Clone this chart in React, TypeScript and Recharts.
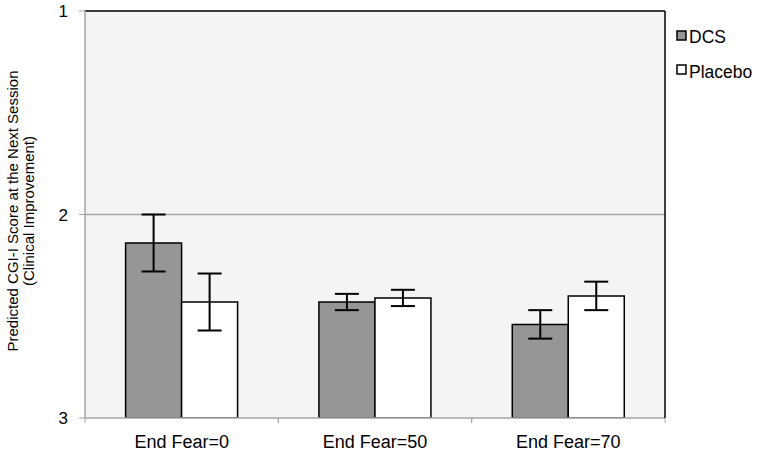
import { BarChart, Bar, XAxis, YAxis, ErrorBar, ReferenceLine, ReferenceArea } from "recharts";

const categories = ["End Fear=0", "End Fear=50", "End Fear=70"];
const dcsScores = [2.14, 2.43, 2.54];
const dcsErrors = [0.14, 0.04, 0.07];
const placeboScores = [2.43, 2.41, 2.4];
const placeboErrors = [0.14, 0.04, 0.07];
const yTicks = [1, 2, 3];
const seriesNames = ["DCS", "Placebo"];
const yTitle = ["Predicted CGI-I Score at the Next Session", "(Clinical Improvement)"];

// bars are drawn from the bottom of the reversed scale (3) up to the score
const BASE = 3;

const data = categories.map((name, i) => ({
  name,
  dcs: dcsScores[i],
  dcsErr: dcsErrors[i],
  placebo: placeboScores[i],
  placeboErr: placeboErrors[i],
}));

const FONT = "'Liberation Sans', Arial, sans-serif";
const AXIS_GRAY = "#a6a6a6";
const DCS_FILL = "#969696";

function CategoryTick(props: any) {
  const { x, y, payload } = props;
  const half = payload.offset ?? 0;
  return (
    <g>
      <line x1={x - half} x2={x - half} y1={y - 8} y2={y - 3} stroke={AXIS_GRAY} />
      <line x1={x + half} x2={x + half} y1={y - 8} y2={y - 3} stroke={AXIS_GRAY} />
      <text x={x} y={y} dy={21.5} textAnchor='middle' fill='#000' fontSize={18}>
        {payload.value}
      </text>
    </g>
  );
}

function YTitle() {
  const cy = 211;
  return (
    <g>
      {yTitle.map((line, i) => {
        const cx = 12 + i * 16.5;
        return (
          <text
            key={line}
            x={cx}
            y={cy}
            transform={`rotate(-90, ${cx}, ${cy})`}
            textAnchor='middle'
            dominantBaseline='central'
            fontSize={15}
            fill='#000'
          >
            {line}
          </text>
        );
      })}
    </g>
  );
}

function LegendBox() {
  const swatches = [DCS_FILL, "#fff"];
  return (
    <svg
      width={90}
      height={80}
      style={{ position: "absolute", left: 672, top: 20, fontFamily: FONT }}
    >
      {seriesNames.map((name, i) => (
        <g key={name}>
          <rect x={5} y={11 + i * 34} width={9} height={9} fill={swatches[i]} stroke='#000' strokeWidth={1.5} />
          <text x={17} y={23.3 + i * 35} fontSize={17.5} fill='#000'>
            {name}
          </text>
        </g>
      ))}
    </svg>
  );
}

export default function App() {
  return (
    <div style={{ position: "absolute", left: 0, top: 0, width: 762, height: 454 }}>
      <BarChart
        width={762}
        height={454}
        data={data}
        margin={{ top: 11, right: 96, bottom: 0, left: 25 }}
        barCategoryGap='21%'
        barGap={0}
        style={{ fontFamily: FONT }}
      >
        <ReferenceArea y1={1} y2={3} fill='#f4f4f4' fillOpacity={1} stroke='none' />
        <ReferenceLine y={2} stroke={AXIS_GRAY} strokeWidth={1.5} />
        <ReferenceLine y={1} stroke='#000' strokeWidth={1.5} />
        <XAxis
          dataKey='name'
          height={36}
          interval={0}
          axisLine={{ stroke: AXIS_GRAY, strokeWidth: 1.5 }}
          tickLine={false}
          tick={<CategoryTick />}
        />
        <YAxis
          type='number'
          domain={[1, 3]}
          allowDataOverflow
          reversed
          ticks={yTicks}
          width={60}
          tickSize={6}
          tickMargin={11}
          axisLine={{ stroke: AXIS_GRAY, strokeWidth: 1.5 }}
          tickLine={{ stroke: AXIS_GRAY }}
          tick={{ fill: "#000", fontSize: 17 }}
          label={<YTitle />}
        />
        <YAxis
          yAxisId='frame'
          orientation='right'
          type='number'
          domain={[1, 3]}
          allowDataOverflow
          width={1}
          tick={false}
          tickLine={false}
          axisLine={{ stroke: "#000", strokeWidth: 1.5 }}
        />
        <Bar
          name={seriesNames[0]}
          dataKey={(d: any) => [BASE, d.dcs]}
          fill={DCS_FILL}
          stroke='#000'
          strokeWidth={1.5}
          isAnimationActive={false}
        >
          <ErrorBar dataKey='dcsErr' direction='y' width={12} stroke='#000' strokeWidth={2} />
        </Bar>
        <Bar
          name={seriesNames[1]}
          dataKey={(d: any) => [BASE, d.placebo]}
          fill='#fff'
          stroke='#000'
          strokeWidth={1.5}
          isAnimationActive={false}
        >
          <ErrorBar dataKey='placeboErr' direction='y' width={12} stroke='#000' strokeWidth={2} />
        </Bar>
      </BarChart>
      <LegendBox />
    </div>
  );
}
